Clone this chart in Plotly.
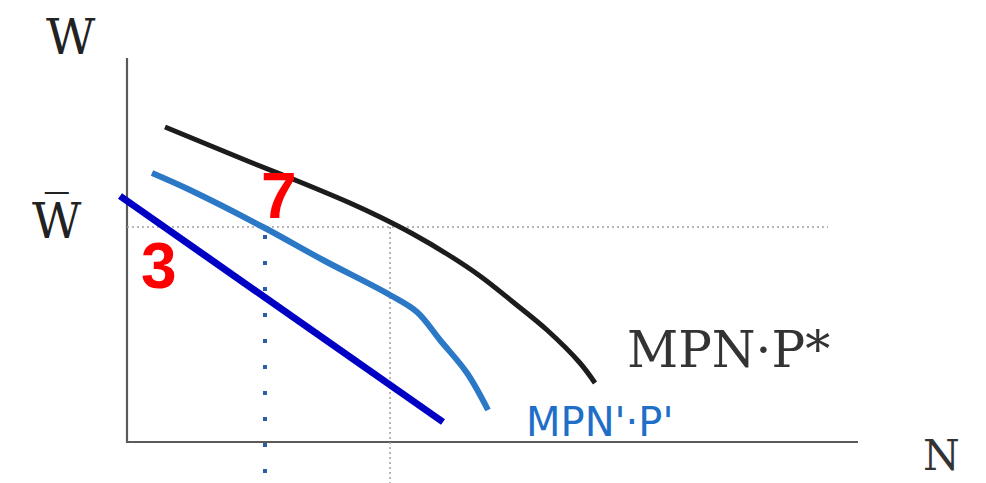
import plotly.graph_objects as go

# Economic coordinates: N (labour) horizontal, W (wage) vertical; origin at axes corner
mpn_p_star_N = [38, 123, 173, 223, 253, 286, 320, 353, 386, 420, 453, 468]
mpn_p_star_W = [315, 280, 260, 239, 225, 208, 188, 166, 140, 112, 79, 59]

mpn_p_prime_N = [25, 63, 136, 196, 263, 290, 313, 340, 361]
mpn_p_prime_W = [269, 252, 215, 182, 147, 130, 102, 69, 32]

line_N = [-7, 316]
line_W = [246, 20]

W_bar = 215
N_star = 263
N_blue = 138

axis_N_len = 731
axis_W_len = 384
dotted_h_end = 701
bottom = -41

fig = go.Figure()

# axes
fig.add_trace(go.Scatter(x=[0, 0, axis_N_len], y=[axis_W_len, 0, 0], mode="lines",
                         line=dict(color="#5a5a5a", width=2.2), hoverinfo="skip"))
# dotted guide lines
fig.add_trace(go.Scatter(x=[0, dotted_h_end], y=[W_bar, W_bar], mode="lines",
                         line=dict(color="#a0a0a0", width=1.5, dash="2px,3px"), hoverinfo="skip"))
fig.add_trace(go.Scatter(x=[N_star, N_star], y=[W_bar, bottom], mode="lines",
                         line=dict(color="#a0a0a0", width=1.5, dash="2px,3px"), hoverinfo="skip"))
fig.add_trace(go.Scatter(x=[N_blue, N_blue], y=[W_bar - 8, bottom], mode="lines",
                         line=dict(color="#2a5ca8", width=4, dash="4px,22px"), hoverinfo="skip"))
# curves
fig.add_trace(go.Scatter(x=mpn_p_star_N, y=mpn_p_star_W, mode="lines", line_shape="spline",
                         line=dict(color="#1c1c1c", width=5, smoothing=1.0), hoverinfo="skip"))
fig.add_trace(go.Scatter(x=mpn_p_prime_N, y=mpn_p_prime_W, mode="lines", line_shape="spline",
                         line=dict(color="#2a78c6", width=6, smoothing=1.0), hoverinfo="skip"))
fig.add_trace(go.Scatter(x=line_N, y=line_W, mode="lines",
                         line=dict(color="#0000c4", width=7), hoverinfo="skip"))

serif = "DejaVu Serif"
ann = [
    dict(x=-56, y=405, text="W", font=dict(family=serif, size=48, color="#222")),
    dict(x=-70, y=222, text="W\u0305", font=dict(family=serif, size=48, color="#222")),
    dict(x=601, y=92, text="MPN·P*", font=dict(family=serif, size=50, color="#333")),
    dict(x=814, y=-40, text="N", yanchor="bottom", font=dict(family=serif, size=42, color="#333")),
    dict(x=152, y=246, text="<b>7</b>", font=dict(family="Liberation Sans", size=64, color="#ff0000")),
    dict(x=32, y=176, text="<b>3</b>", font=dict(family="Liberation Sans", size=64, color="#ff0000")),
    dict(x=472, y=20, text="MPN'·P'", font=dict(family="DejaVu Sans", size=40, color="#1f6fc8")),
]
for a in ann:
    fig.add_annotation(xref="x", yref="y", showarrow=False, **a)

# the page body has an 8px margin, so the plot area starts 8px in from the window edge
fig.update_layout(
    width=978, height=475, margin=dict(l=0, r=0, t=0, b=0),
    paper_bgcolor="white", plot_bgcolor="white", showlegend=False,
    xaxis=dict(range=[-119, 859], visible=False, fixedrange=True),
    yaxis=dict(range=[-41, 434], visible=False, fixedrange=True),
)
fig.write_html("out.html")
